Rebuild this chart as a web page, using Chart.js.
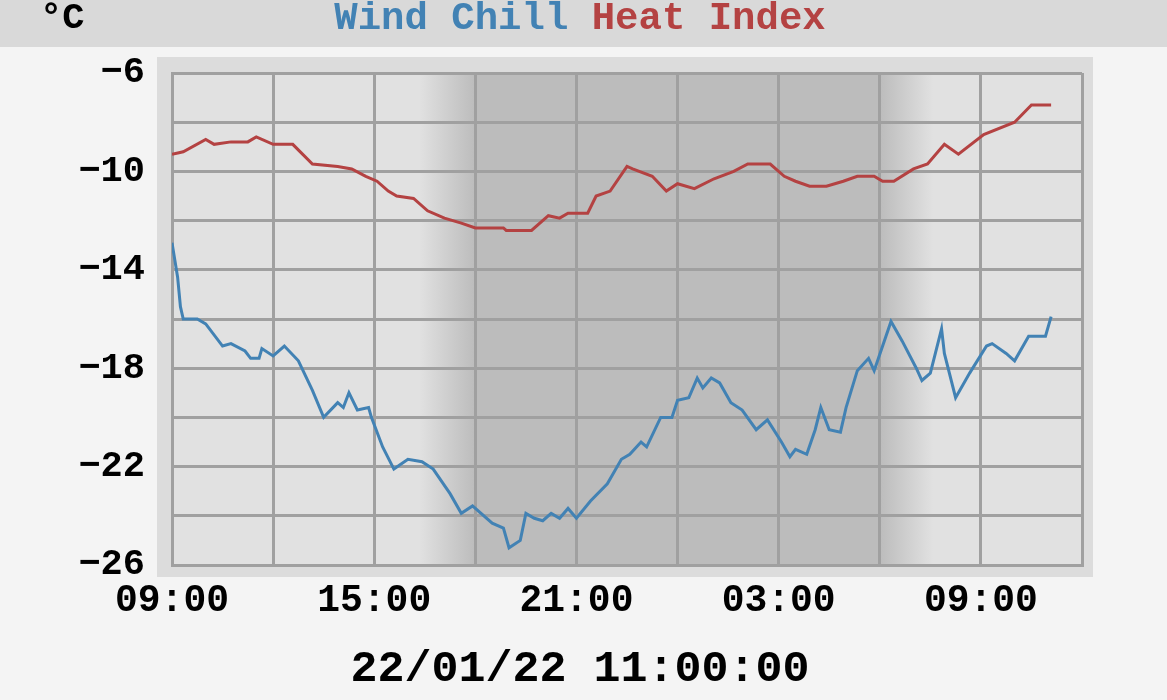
<!DOCTYPE html>
<html>
<head>
<meta charset="utf-8">
<script src="https://cdn.jsdelivr.net/npm/chart.js@4.4.1/dist/chart.umd.min.js"></script>
<style>
  html, body { margin: 0; padding: 0; background: #f4f4f4; }
  #wrap { width: 1167px; height: 700px; position: relative; }
</style>
</head>
<body>
<div id="wrap"><canvas id="chillChart"></canvas></div>
<script>
// time = minutes after 09:00 on 21/01/22
const windChillTime = [0, 5, 10, 15, 20, 45, 60, 90, 105, 130, 140, 155, 160, 180, 200, 225, 250, 270, 295, 305,
  315, 330, 350, 355, 375, 395, 420, 445, 465, 495, 515, 535, 570, 590, 600, 620, 630, 645, 660, 675,
  690, 705, 720, 745, 775, 800, 815, 835, 845, 870, 890, 900, 920, 935, 945, 960, 975, 995, 1015, 1040,
  1060, 1085, 1100, 1110, 1130, 1145, 1155, 1170, 1190, 1200, 1220, 1240, 1250, 1280, 1300, 1325, 1335, 1350, 1370, 1375,
  1395, 1420, 1450, 1460, 1485, 1500, 1525, 1555, 1565];
const windChill = [-12.9, -13.6, -14.3, -15.5, -16.0, -16.0, -16.2, -17.1, -17.0, -17.3, -17.6, -17.6, -17.2, -17.5, -17.1, -17.7, -18.9, -20.0, -19.4, -19.6,
  -19.0, -19.7, -19.6, -20.0, -21.2, -22.1, -21.7, -21.8, -22.1, -23.1, -23.9, -23.6, -24.3, -24.5, -25.3, -25.0, -23.9, -24.1, -24.2, -23.9,
  -24.1, -23.7, -24.1, -23.4, -22.7, -21.7, -21.5, -21.0, -21.2, -20.0, -20.0, -19.3, -19.2, -18.4, -18.8, -18.4, -18.6, -19.4, -19.7, -20.5,
  -20.1, -21.0, -21.6, -21.3, -21.5, -20.5, -19.6, -20.5, -20.6, -19.6, -18.1, -17.6, -18.1, -16.1, -16.9, -18.0, -18.5, -18.2, -16.4, -17.4,
  -19.2, -18.2, -17.1, -17.0, -17.4, -17.7, -16.7, -16.7, -15.9];

const heatIndexTime = [0, 20, 60, 75, 105, 135, 150, 180, 215, 250, 295, 320, 345, 365, 385, 400, 430, 455, 485, 515,
  540, 590, 595, 640, 670, 690, 705, 740, 755, 780, 810, 820, 855, 880, 900, 930, 965, 1000, 1025, 1065,
  1090, 1110, 1135, 1165, 1195, 1220, 1250, 1265, 1285, 1320, 1345, 1375, 1400, 1445, 1500, 1530, 1565];
const heatIndex = [-9.3, -9.2, -8.7, -8.9, -8.8, -8.8, -8.6, -8.9, -8.9, -9.7, -9.8, -9.9, -10.2, -10.4, -10.8, -11.0, -11.1, -11.6, -11.9, -12.1,
  -12.3, -12.3, -12.4, -12.4, -11.8, -11.9, -11.7, -11.7, -11.0, -10.8, -9.8, -9.9, -10.2, -10.8, -10.5, -10.7, -10.3, -10.0, -9.7, -9.7,
  -10.2, -10.4, -10.6, -10.6, -10.4, -10.2, -10.2, -10.4, -10.4, -9.9, -9.7, -8.9, -9.3, -8.5, -8.0, -7.3, -7.3];

const xTickValues = [0, 360, 720, 1080, 1440];
const xTickLabels = ["09:00", "15:00", "21:00", "03:00", "09:00"];
const yTickLabels = [-6, -10, -14, -18, -22, -26];
const bottomLabel = '22/01/22 11:00:00';

// twilight bands (minutes), for the day/night shading
const dusk = [440, 540];
const dawn = [1260, 1355];

const chillColor = '#4282b4';
const heatColor = '#b44242';
const gridColor = '#a0a0a0';
const fontFamily = "'Liberation Mono', 'DejaVu Sans Mono', monospace";

const backdrop = {
  id: 'backdrop',
  beforeDraw(chart) {
    const { ctx, chartArea: a, scales } = chart;
    const x = scales.x;
    ctx.save();
    ctx.fillStyle = '#f4f4f4';
    ctx.fillRect(0, 0, chart.width, chart.height);
    ctx.fillStyle = '#d9d9d9';
    ctx.fillRect(0, 0, chart.width, 47);
    // frame round the plot
    ctx.fillStyle = '#dcdcdc';
    ctx.fillRect(a.left - 15, a.top - 16, a.right - a.left + 26, a.bottom - a.top + 28);
    // daylight
    ctx.fillStyle = '#e1e1e1';
    ctx.fillRect(a.left, a.top, a.right - a.left, a.bottom - a.top);
    // night
    const d0 = x.getPixelForValue(dusk[0]), d1 = x.getPixelForValue(dusk[1]);
    const m0 = x.getPixelForValue(dawn[0]), m1 = x.getPixelForValue(dawn[1]);
    let g = ctx.createLinearGradient(d0, 0, d1, 0);
    g.addColorStop(0, '#e1e1e1');
    g.addColorStop(1, '#bcbcbc');
    ctx.fillStyle = g;
    ctx.fillRect(d0, a.top, d1 - d0, a.bottom - a.top);
    ctx.fillStyle = '#bcbcbc';
    ctx.fillRect(d1, a.top, m0 - d1, a.bottom - a.top);
    g = ctx.createLinearGradient(m0, 0, m1, 0);
    g.addColorStop(0, '#bcbcbc');
    g.addColorStop(1, '#e1e1e1');
    ctx.fillStyle = g;
    ctx.fillRect(m0, a.top, m1 - m0, a.bottom - a.top);

    // header: unit and coloured series names
    ctx.textBaseline = 'middle';
    ctx.textAlign = 'left';
    ctx.font = 'bold 37px ' + fontFamily;
    ctx.fillStyle = '#000';
    ctx.fillText('°C', 40, 19);
    ctx.font = 'bold 39px ' + fontFamily;
    const parts = [['Wind Chill', chillColor], [' ', '#000'], ['Heat Index', heatColor]];
    const total = parts.reduce((s, p) => s + ctx.measureText(p[0]).width, 0);
    let px = 580 - total / 2;
    parts.forEach(([t, c]) => {
      ctx.fillStyle = c;
      ctx.fillText(t, px, 19);
      px += ctx.measureText(t).width;
    });

    // date label under the time axis
    ctx.font = 'bold 45px ' + fontFamily;
    ctx.textAlign = 'center';
    ctx.fillStyle = '#000';
    ctx.fillText(bottomLabel, 580, 670);
    ctx.restore();
  }
};

const ctx = document.getElementById('chillChart').getContext('2d');
const chillChart = new Chart(ctx, {
  type: 'line',
  data: {
    datasets: [
      {
        label: 'Wind Chill',
        data: windChillTime.map((t, i) => ({ x: t, y: windChill[i] })),
        borderColor: chillColor,
        borderWidth: 3,
        pointRadius: 0,
        tension: 0,
      },
      {
        label: 'Heat Index',
        data: heatIndexTime.map((t, i) => ({ x: t, y: heatIndex[i] })),
        borderColor: heatColor,
        borderWidth: 3,
        pointRadius: 0,
        tension: 0,
      }
    ]
  },
  options: {
    animation: false,
    responsive: true,
    maintainAspectRatio: false,
    layout: { padding: { left: 0, top: 73, right: 85, bottom: 0 } },
    plugins: {
      legend: { display: false },
      tooltip: { enabled: false },
    },
    scales: {
      x: {
        type: 'linear',
        min: 0,
        max: 1620,
        afterFit: (scale) => { scale.height = 135; },
        ticks: {
          stepSize: 180,
          autoSkip: false,
          maxRotation: 0,
          padding: 14,
          color: '#000',
          font: { family: fontFamily, size: 38, weight: 'bold' },
          callback: (v) => {
            const i = xTickValues.indexOf(v);
            return i >= 0 ? xTickLabels[i] : '';
          }
        },
        grid: { color: gridColor, lineWidth: 3, drawTicks: false },
        border: { color: gridColor, width: 3 }
      },
      y: {
        min: -26,
        max: -6,
        afterFit: (scale) => { scale.width = 172; },
        ticks: {
          stepSize: 2,
          autoSkip: false,
          padding: 27,
          color: '#000',
          font: { family: fontFamily, size: 37, weight: 'bold' },
          callback: (v) => yTickLabels.includes(v) ? String(v).replace('-', '\u2212') : ''
        },
        grid: { color: gridColor, lineWidth: 3, drawTicks: false },
        border: { color: gridColor, width: 3 }
      }
    }
  },
  plugins: [backdrop]
});
</script>
</body>
</html>
